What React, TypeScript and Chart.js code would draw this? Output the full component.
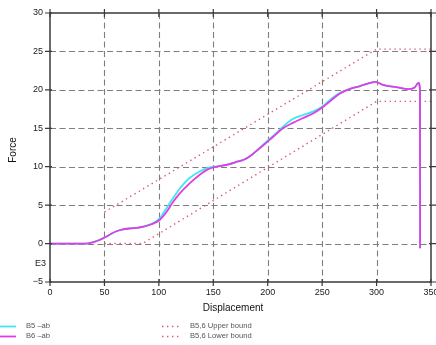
import { useEffect, useRef } from "react";
import { Chart, registerables } from "chart.js";

Chart.register(...registerables);

const xTicks = [0, 50, 100, 150, 200, 250, 300, 350];
const yTicks = [-5, 0, 5, 10, 15, 20, 25, 30];
const xGrid = [50, 100, 150, 200, 250, 300];
const yGrid = [0, 5, 10, 15, 20, 25];

const b6X = [0, 20, 33, 40, 46, 51, 56, 61, 67, 74, 80, 86, 92, 97, 101, 107, 113, 119, 128, 137, 145, 151, 157, 165, 172, 178, 184, 190, 196, 205, 214, 223, 232, 242, 251, 258, 266, 275, 285, 294, 299, 306, 318, 330, 335, 338.4, 339.9, 340];
const b6Y = [0, 0, 0, 0.2, 0.5, 0.85, 1.25, 1.6, 1.85, 1.98, 2.05, 2.2, 2.45, 2.75, 3.1, 4.1, 5.4, 6.5, 7.8, 8.9, 9.65, 9.95, 10.1, 10.35, 10.65, 10.9, 11.4, 12.1, 12.8, 13.9, 15.0, 15.7, 16.3, 16.95, 17.8, 18.6, 19.5, 20.1, 20.5, 20.9, 21.05, 20.65, 20.35, 20.1, 20.3, 20.9, 20.0, -0.6];

const b5X = [0, 20, 33, 40, 46, 51, 56, 61, 67, 74, 80, 86, 92, 97, 101, 107, 113, 120, 128, 137, 145, 151, 157, 165, 172, 178, 184, 190, 196, 205, 214, 223, 232, 242, 251, 258, 266, 275, 285, 294, 299, 306, 318, 330, 335, 338.4, 339.9, 340];
const b5Y = [0, 0, 0, 0.2, 0.5, 0.85, 1.25, 1.6, 1.85, 1.98, 2.05, 2.2, 2.5, 2.85, 3.35, 4.6, 5.9, 7.3, 8.5, 9.35, 9.85, 10.0, 10.1, 10.35, 10.65, 10.9, 11.4, 12.1, 12.9, 14.0, 15.2, 16.2, 16.7, 17.2, 17.9, 18.8, 19.6, 20.1, 20.5, 20.9, 21.05, 20.65, 20.35, 20.1, 20.3, 20.9, 20.0, -0.6];

const upperX = [50, 300, 350];
const upperY = [4.1, 25.3, 25.3];
const lowerX = [50, 85, 300, 350];
const lowerY = [0, 0, 18.5, 18.5];

const seriesLabels = ["B5 \u2013ab", "B6 \u2013ab", "B5,6 Upper bound", "B5,6 Lower bound"];
const xTitle = "Displacement";
const yTitle = "Force";
const exponentLabel = "E3";

const CYAN = "#3fe6ec";
const MAGENTA = "#e03ce6";
const BOUND = "#d85a6c";

const pts = (xs: number[], ys: number[]) => xs.map((x, i) => ({ x, y: ys[i] }));

export default function App() {
  const ref = useRef<HTMLCanvasElement | null>(null);

  useEffect(() => {
    document.body.style.margin = "0";
    const canvas = ref.current;
    if (!canvas) return;
    const FONT = '"Liberation Sans", Arial, sans-serif';

    const framePlugin = {
      id: "frame",
      beforeDatasetsDraw(chart: any) {
        const { ctx, chartArea: a, scales } = chart;
        const xs = scales.x;
        const ys = scales.y;
        ctx.save();
        ctx.strokeStyle = "#7e7e7e";
        ctx.lineWidth = 1.1;
        ctx.setLineDash([6, 3.5]);
        for (const v of xGrid) {
          const px = Math.round(xs.getPixelForValue(v)) + 0.5;
          ctx.beginPath();
          ctx.moveTo(px, a.top);
          ctx.lineTo(px, a.bottom);
          ctx.stroke();
        }
        for (const v of yGrid) {
          const py = Math.round(ys.getPixelForValue(v)) + 0.5;
          ctx.beginPath();
          ctx.moveTo(a.left, py);
          ctx.lineTo(a.right, py);
          ctx.stroke();
        }
        ctx.restore();
      },
      afterDatasetsDraw(chart: any) {
        const { ctx, chartArea: a, scales } = chart;
        const xs = scales.x;
        const ys = scales.y;
        ctx.save();
        ctx.strokeStyle = "#3a3a3a";
        ctx.lineWidth = 1.5;
        ctx.setLineDash([]);
        ctx.strokeRect(a.left, a.top, a.right - a.left, a.bottom - a.top);
        ctx.lineWidth = 1.2;
        for (const v of xTicks) {
          const px = xs.getPixelForValue(v);
          ctx.beginPath();
          ctx.moveTo(px, a.bottom - 3);
          ctx.lineTo(px, a.bottom + 4);
          ctx.moveTo(px, a.top - 4);
          ctx.lineTo(px, a.top + 4);
          ctx.stroke();
        }
        for (const v of yTicks) {
          const py = ys.getPixelForValue(v);
          ctx.beginPath();
          ctx.moveTo(a.left - 5, py);
          ctx.lineTo(a.left + 2, py);
          ctx.moveTo(a.right - 2, py);
          ctx.lineTo(a.right + 5, py);
          ctx.stroke();
        }
        // tick labels
        ctx.fillStyle = "#1a1a1a";
        ctx.font = `9px ${FONT}`;
        ctx.textAlign = "right";
        ctx.textBaseline = "middle";
        for (const v of yTicks) {
          const py = ys.getPixelForValue(v);
          ctx.fillText(v < 0 ? "\u2212" + Math.abs(v) : String(v), a.left - 7, py);
        }
        ctx.textAlign = "center";
        for (const v of xTicks) {
          const px = xs.getPixelForValue(v);
          ctx.fillText(String(v), px, a.bottom + 11);
        }
        ctx.textAlign = "left";
        ctx.fillText(exponentLabel, 35, ys.getPixelForValue(-2.6));
        // titles
        ctx.font = `10px ${FONT}`;
        ctx.fillStyle = "#111";
        ctx.textAlign = "center";
        ctx.fillText(xTitle, 233, a.bottom + 26);
        ctx.save();
        ctx.translate(13, 150);
        ctx.rotate(-Math.PI / 2);
        ctx.fillText(yTitle, 0, 0);
        ctx.restore();
        // legend
        const ds = chart.data.datasets;
        const items = [
          { d: ds[1], x: 0, y: 326 },
          { d: ds[0], x: 0, y: 336 },
          { d: ds[2], x: 162, y: 326 },
          { d: ds[3], x: 162, y: 336 },
        ];
        ctx.font = `7.6px ${FONT}`;
        ctx.fillStyle = "#555";
        ctx.textAlign = "left";
        for (const it of items) {
          ctx.save();
          ctx.strokeStyle = it.d.borderColor;
          ctx.lineWidth = it.d.borderDash ? 1.3 : 1.8;
          ctx.setLineDash(it.d.borderDash || []);
          ctx.beginPath();
          ctx.moveTo(it.x, it.y + 0.5);
          ctx.lineTo(it.x + (it.d.borderDash ? 20 : 16), it.y + 0.5);
          ctx.stroke();
          ctx.restore();
          ctx.fillText(it.d.label, it.x + (it.d.borderDash ? 28 : 26), it.y);
        }
        ctx.restore();
      },
    };

    const chart = new Chart(canvas, {
      type: "line",
      data: {
        datasets: [
          {
            label: seriesLabels[1],
            data: pts(b6X, b6Y),
            borderColor: MAGENTA,
            borderWidth: 1.8,
            pointRadius: 0,
            cubicInterpolationMode: "monotone",
            order: 0,
          },
          {
            label: seriesLabels[0],
            data: pts(b5X, b5Y),
            borderColor: CYAN,
            borderWidth: 1.8,
            pointRadius: 0,
            cubicInterpolationMode: "monotone",
            order: 1,
          },
          {
            label: seriesLabels[2],
            data: pts(upperX, upperY),
            borderColor: BOUND,
            borderWidth: 1.4,
            borderDash: [1.4, 3.6],
            pointRadius: 0,
            tension: 0,
            order: 2,
          },
          {
            label: seriesLabels[3],
            data: pts(lowerX, lowerY),
            borderColor: BOUND,
            borderWidth: 1.4,
            borderDash: [1.4, 3.6],
            pointRadius: 0,
            tension: 0,
            order: 3,
          },
        ],
      },
      options: {
        animation: false,
        responsive: false,
        layout: { padding: { left: 50, top: 13, right: 5, bottom: 63 } },
        scales: {
          x: { type: "linear", min: 0, max: 350, display: false },
          y: { type: "linear", min: -5, max: 30, display: false },
        },
        plugins: { legend: { display: false }, tooltip: { enabled: false } },
      },
      plugins: [framePlugin],
    } as any);
    return () => chart.destroy();
  }, []);

  return (
    <div style={{ width: 436, height: 345, background: "#fff" }}>
      <canvas ref={ref} width={436} height={345} />
    </div>
  );
}
